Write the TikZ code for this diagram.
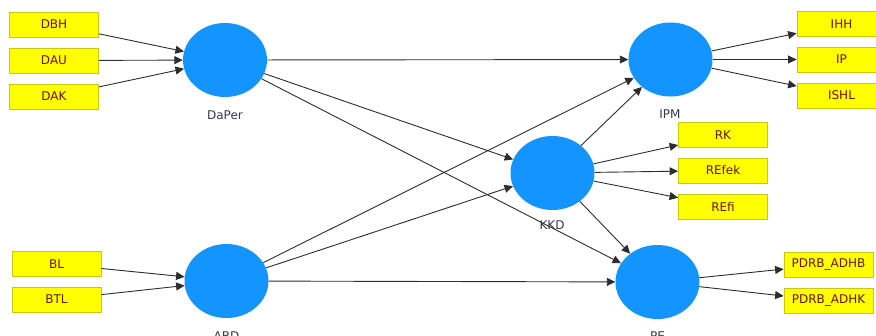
\documentclass[tikz,border=0pt]{standalone}
\usepackage{fontspec}
\setmainfont{DejaVu Sans}
\usetikzlibrary{shapes.geometric,arrows.meta}
\definecolor{lvblue}{RGB}{20,148,255}
\definecolor{boxfill}{RGB}{255,255,0}
\definecolor{boxline}{RGB}{200,200,20}
\definecolor{boxtext}{RGB}{110,20,0}
\definecolor{lbltext}{RGB}{55,55,75}
\definecolor{edgecol}{RGB}{45,45,45}
\begin{document}
\begin{tikzpicture}[x=1pt,y=-1pt,
  ind/.style={rectangle,draw=boxline,line width=0.8pt,fill=boxfill,minimum width=89pt,minimum height=25pt,inner sep=0pt,text=boxtext,font=\fontsize{12}{14}\selectfont},
  lv/.style={ellipse,fill=lvblue,minimum width=84pt,minimum height=74pt,inner sep=0pt},
  lvlabel/.style={text=lbltext,font=\fontsize{12}{14}\selectfont},
  path/.style={draw=edgecol,line width=0.9pt,-{Triangle[length=8.5pt,width=8pt]}}]
\useasboundingbox (0,0) rectangle (876,335);
\clip (0,0) rectangle (876,335);
% latent variables
\node[lv] (DaPer) at (225,60) {};
\node[lv] (IPM) at (670.5,59.5) {};
\node[lv] (KKD) at (552.5,173) {};
\node[lv] (ABD) at (226.5,281) {};
\node[lv] (PE) at (657.5,282) {};
% labels
\node[lvlabel] (lDaPer) at (225,115) {DaPer};
\node[lvlabel] (lIPM) at (670,114) {IPM};
\node[lvlabel] (lKKD) at (552,225) {KKD};
\node[lvlabel] (lABD) at (226.5,336) {ABD};
\node[lvlabel] (lPE) at (657.5,336) {PE};
% indicators
\node[ind] (DBH) at (54,24.5) {DBH};
\node[ind] (DAU) at (54,60.5) {DAU};
\node[ind] (DAK) at (54,96.5) {DAK};
\node[ind] (BL) at (56.5,264) {BL};
\node[ind] (BTL) at (56.5,299.5) {BTL};
\node[ind] (IHH) at (841.5,24) {IHH};
\node[ind] (IP) at (841.5,59.5) {IP};
\node[ind] (ISHL) at (841.5,95.5) {ISHL};
\node[ind] (RK) at (723,135) {RK};
\node[ind] (REfek) at (723,170.5) {REfek};
\node[ind] (REfi) at (723,206.5) {REfi};
\node[ind] (ADHB) at (828.5,264.5) {PDRB\_ADHB};
\node[ind] (ADHK) at (828.5,301) {PDRB\_ADHK};
% connectors
\draw[path] (DBH) -- (DaPer);
\draw[path] (DAU) -- (DaPer);
\draw[path] (DAK) -- (DaPer);
\draw[path] (BL) -- (ABD);
\draw[path] (BTL) -- (ABD);
\draw[path] (DaPer) -- (IPM);
\draw[path] (DaPer) -- (KKD);
\draw[path] (DaPer) -- (PE);
\draw[path] (ABD) -- (IPM);
\draw[path] (ABD) -- (KKD);
\draw[path] (ABD) -- (PE);
\draw[path] (KKD) -- (IPM);
\draw[path] (KKD) -- (PE);
\draw[path] (KKD) -- (RK);
\draw[path] (KKD) -- (REfek);
\draw[path] (KKD) -- (REfi);
\draw[path] (IPM) -- (IHH);
\draw[path] (IPM) -- (IP);
\draw[path] (IPM) -- (ISHL);
\draw[path] (PE) -- (ADHB);
\draw[path] (PE) -- (ADHK);
\end{tikzpicture}
\end{document}
